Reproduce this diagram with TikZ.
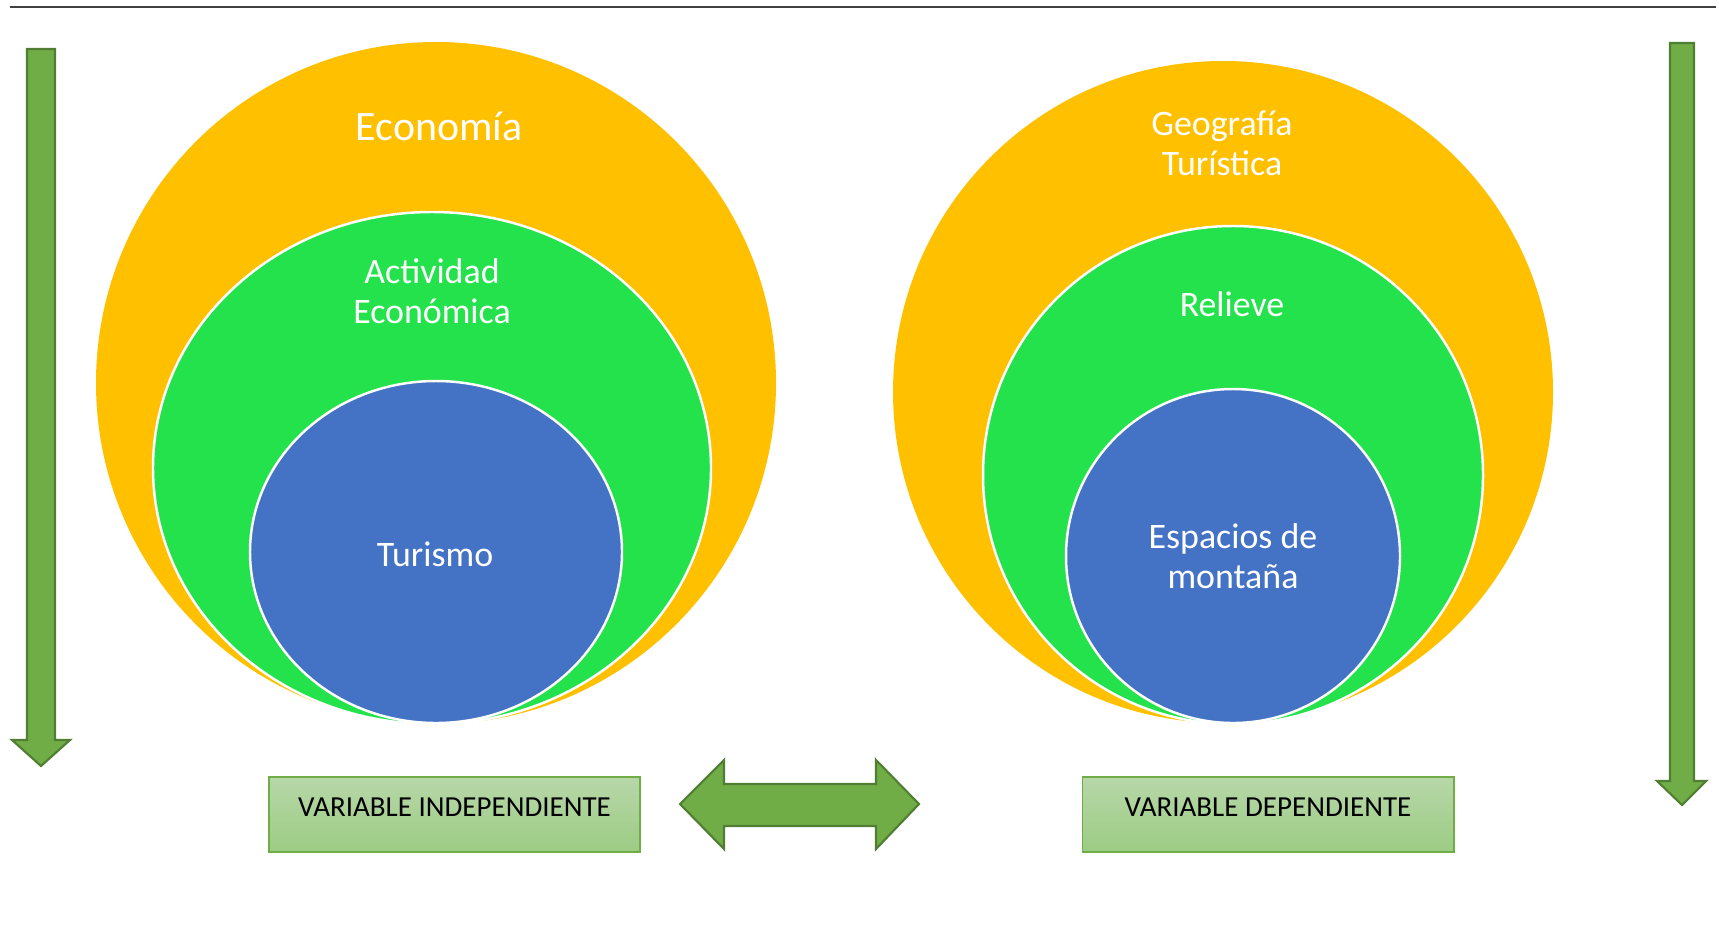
\documentclass[tikz,border=0pt]{standalone}
\usepackage{fontspec}
\setmainfont{Carlito}
\usepackage{xcolor}

\definecolor{gold}{RGB}{255,192,0}
\definecolor{leaf}{RGB}{36,226,76}
\definecolor{ocean}{RGB}{68,114,196}
\definecolor{arrowgreen}{RGB}{112,173,71}
\definecolor{arrowedge}{RGB}{80,126,50}
\definecolor{boxtop}{RGB}{183,215,168}
\definecolor{boxbottom}{RGB}{156,204,132}
\definecolor{rulegray}{RGB}{64,64,64}

\begin{document}
\begin{tikzpicture}[x=0.01cm, y=-0.01cm,
    ringtext/.style={text=white, align=center, inner sep=0pt,
        font=\fontsize{10.2pt}{11.5pt}\selectfont},
    toptext/.style={ringtext, font=\fontsize{11.9pt}{13pt}\selectfont},
    ring/.style={draw=white, line width=0.7pt},
    bigarrow/.style={fill=arrowgreen, draw=arrowedge, line width=0.6pt, line join=miter},
    varbox/.style={draw=arrowgreen, line width=0.5pt, top color=boxtop, bottom color=boxbottom,
        minimum width=3.71cm, minimum height=0.75cm, inner sep=0pt,
        text height=0.26cm, text depth=0.225cm,
        font=\fontsize{8.25pt}{9pt}\selectfont}
]
    \useasboundingbox (0,0) rectangle (1719,936);

    % Rule
    \draw[rulegray, line width=0.6pt] (10,7) -- (1716,7);

    % Left circles
    \coordinate (economy) at (436,383);
    \coordinate (activity) at (432,468);
    \coordinate (tourism) at (436,552);
    \fill[gold] (economy) ellipse [x radius=340, y radius=341];
    \filldraw[fill=leaf, ring] (activity) ellipse [x radius=279, y radius=256];
    \filldraw[fill=ocean, ring] (tourism) ellipse [x radius=186, y radius=171];
    \node[toptext] (economia) at (439,126) {Economía};
    \node[ringtext] (actividad) at (432,291) {Actividad\\Económica};
    \node[ringtext] (turismo) at (435,554) {Turismo};

    % Right circles
    \coordinate (geography) at (1223,392);
    \coordinate (relief) at (1233,475);
    \coordinate (mountain) at (1233,556);
    \fill[gold] (geography) ellipse [x radius=330, y radius=331];
    \filldraw[fill=leaf, ring] (relief) ellipse [x radius=250, y radius=249];
    \filldraw[fill=ocean, ring] (mountain) ellipse [x radius=167, y radius=167];
    \node[ringtext] (geografia) at (1222,143) {Geografía\\Turística};
    \node[ringtext] (relieve) at (1232,304) {Relieve};
    \node[ringtext] (espacios) at (1233,556) {Espacios de\\montaña};

    % Side arrows
    \draw[bigarrow] (27,49) -- (55,49) -- (55,740) -- (70,740) -- (41,766)
        -- (12,740) -- (27,740) -- cycle;
    \draw[bigarrow] (1670,43) -- (1694,43) -- (1694,781) -- (1706,781) -- (1682,805)
        -- (1657,781) -- (1670,781) -- cycle;

    % Double arrow
    \draw[bigarrow] (680,804) -- (724,760) -- (724,784) -- (876,784) -- (876,760)
        -- (919,804) -- (876,849) -- (876,826) -- (724,826) -- (724,849) -- cycle;

    % Variables
    \node[varbox] (indep) at (454.5,814.5) {VARIABLE INDEPENDIENTE};
    \node[varbox] (dep) at (1268,814.5) {VARIABLE DEPENDIENTE};
\end{tikzpicture}
\end{document}
